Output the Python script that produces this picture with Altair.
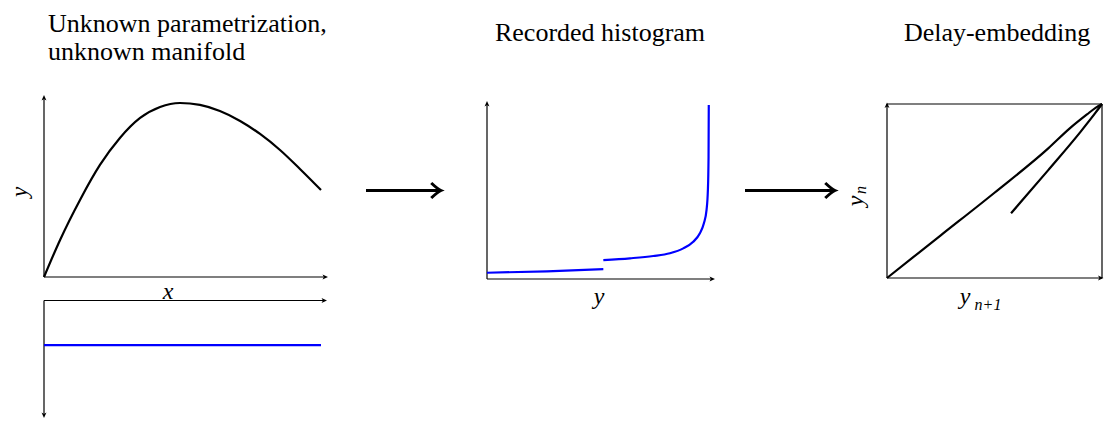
import altair as alt
import pandas as pd

# ---------------- data (panel-local, normalised units) ----------------
# Panel 1 (top): unknown manifold, y against x
p1_x = [0, 0.058, 0.13, 0.202, 0.274, 0.347, 0.419, 0.491, 0.563, 0.635, 0.708, 0.78, 0.852, 0.924, 1.0]
p1_y = [0, 0.213, 0.443, 0.644, 0.799, 0.914, 0.977, 1.0, 0.989, 0.954, 0.897, 0.822, 0.73, 0.621, 0.5]
# Panel 1 (bottom): parametrisation density (uniform), measured downwards
p1b_x = [0, 1.0]
p1b_v = [0.38, 0.38]
# Panel 2: recorded histogram, two branches
p2a_y = [0, 0.27, 0.524]
p2a_d = [0.036, 0.044, 0.057]
p2b_y = [0.524, 0.644, 0.749, 0.824, 0.884, 0.929, 0.959, 0.977, 0.989, 0.995, 0.998, 0.999]
p2b_d = [0.109, 0.119, 0.132, 0.148, 0.176, 0.214, 0.263, 0.320, 0.397, 0.511, 0.703, 1.0]
# Panel 3: delay embedding, two branches
p3a_x = [0, 0.25, 0.5, 0.75, 0.85, 0.93, 0.97, 1.0]
p3a_y = [0, 0.245, 0.49, 0.745, 0.86, 0.94, 0.978, 1.0]
p3b_x = [0.577, 0.75, 0.9, 0.97, 1.0]
p3b_y = [0.372, 0.62, 0.84, 0.95, 1.0]

titles = ["Unknown parametrization,", "unknown manifold", "Recorded histogram", "Delay-embedding"]

# ---------------- layout (page pixels) ----------------
W, H = 1096, 411
P1 = dict(x0=44, x1=321, y0=277, y1=103, ax=328, ay=95)
P1B = dict(x0=44, x1=321, y0=300.5, y1=418, ax=327)
P2 = dict(x0=487, x1=709, y0=279, y1=105, ax=715, ay=101)
P3 = dict(x0=887, x1=1102, y0=278, y1=104)


def mapxy(box, xs, ys):
    px = [box["x0"] + v * (box["x1"] - box["x0"]) for v in xs]
    py = [box["y0"] + v * (box["y1"] - box["y0"]) for v in ys]
    return px, py


rows = []
def add(seg, color, box, xs, ys):
    px, py = mapxy(box, xs, ys)
    for i, (a, b) in enumerate(zip(px, py)):
        rows.append(dict(seg=seg, color=color, i=i, x=a, y=b))

add("p1", "black", P1, p1_x, p1_y)
add("p1b", "blue", P1B, p1b_x, p1b_v)
add("p2a", "blue", P2, p2a_y, p2a_d)
add("p2b", "blue", P2, p2b_y, p2b_d)
add("p3a", "black", P3, p3a_x, p3a_y)
add("p3b", "black", P3, p3b_x, p3b_y)
curves = pd.DataFrame(rows)

X = alt.Scale(domain=[8, 8 + W])
Y = alt.Scale(domain=[8, 8 + H], reverse=True)

def xe(f="x"):
    return alt.X(f"{f}:Q", scale=X, axis=None)
def ye(f="y"):
    return alt.Y(f"{f}:Q", scale=Y, axis=None)

lines = alt.Chart(curves).mark_line(strokeWidth=2.2, strokeCap="butt", interpolate="monotone").encode(
    x=xe(), y=ye(), detail="seg:N", order="i:Q",
    color=alt.Color("color:N", scale=None),
)

# axis lines
axes = pd.DataFrame([
    dict(x=P1["x0"], y=P1["y0"], x2=P1["ax"] - 3, y2=P1["y0"]),
    dict(x=P1["x0"], y=P1["y0"], x2=P1["x0"], y2=P1["ay"] + 3),
    dict(x=P1B["x0"], y=P1B["y0"], x2=P1B["ax"] - 3, y2=P1B["y0"]),
    dict(x=P1B["x0"], y=P1B["y0"], x2=P1B["x0"], y2=P1B["y1"] - 3),
    dict(x=P2["x0"], y=P2["y0"], x2=P2["ax"] - 3, y2=P2["y0"]),
    dict(x=P2["x0"], y=P2["y0"], x2=P2["x0"], y2=P2["ay"] + 3),
    dict(x=P3["x0"], y=P3["y0"], x2=P3["x1"], y2=P3["y0"]),
    dict(x=P3["x0"], y=P3["y0"], x2=P3["x0"], y2=P3["y1"]),
    dict(x=P3["x0"], y=P3["y1"], x2=P3["x1"], y2=P3["y1"]),
    dict(x=P3["x1"], y=P3["y1"], x2=P3["x1"], y2=P3["y0"]),
])
axis_rules = alt.Chart(axes).mark_rule(strokeWidth=1.2, color="black").encode(
    x=xe(), y=ye(), x2="x2:Q", y2="y2:Q")

heads = pd.DataFrame([
    dict(x=P1["ax"], y=P1["y0"], a=0),
    dict(x=P1["x0"], y=P1["ay"], a=270),
    dict(x=P1B["ax"], y=P1B["y0"], a=0),
    dict(x=P1B["x0"], y=P1B["y1"], a=90),
    dict(x=P2["ax"], y=P2["y0"], a=0),
    dict(x=P2["x0"], y=P2["ay"], a=270),
    dict(x=P3["x1"] + 1.5, y=P3["y0"], a=0),
    dict(x=P3["x0"], y=P3["y1"] - 1.5, a=270),
])
stealth = "M0,0 L-2,-0.9 L-1.5,0 L-2,0.9 Z"
axis_heads = alt.Chart(heads).mark_point(
    shape=stealth, filled=True, color="black", size=30, opacity=1).encode(
    x=xe(), y=ye(), angle=alt.Angle("a:Q", scale=None))

# big arrows between panels
big = pd.DataFrame([
    dict(x=366, x2=439, y=190.5, tip=441),
    dict(x=745, x2=833, y=190.5, tip=835),
])
big_shaft = alt.Chart(big).mark_rule(strokeWidth=3, color="black").encode(
    x=xe(), x2="x2:Q", y=ye())
big_head = alt.Chart(big).mark_point(
    shape="M-1.3,-1 Q-0.45,-0.2 0,0 Q-0.45,0.2 -1.3,1", filled=False,
    strokeWidth=3, color="black", size=225, opacity=1).encode(
    x=xe("tip"), y=ye())

# titles
tdf = pd.DataFrame([
    dict(t=titles[0], x=48, y=32, al="left"),
    dict(t=titles[1], x=48, y=60, al="left"),
    dict(t=titles[2], x=600, y=41, al="center"),
    dict(t=titles[3], x=997, y=41, al="center"),
])
FONT = "Liberation Serif"
title_marks = []
for al in ["left", "center"]:
    title_marks.append(
        alt.Chart(tdf[tdf.al == al]).mark_text(
            font=FONT, fontSize=26, align=al, baseline="alphabetic", color="black"
        ).encode(x=xe(), y=ye(), text="t:N"))

# axis labels
lab = pd.DataFrame([
    dict(t="x", x=168, y=292, a=0, s=24),
    dict(t="y", x=599, y=297, a=0, s=24),
    dict(t="y", x=20, y=192, a=270, s=23),
    dict(t="y", x=965, y=297, a=0, s=24),
    dict(t="n+1", x=988, y=305, a=0, s=16),
    dict(t="y", x=856, y=201, a=270, s=24),
    dict(t="n", x=861, y=190, a=270, s=16),
])
label_marks = alt.Chart(lab).mark_text(
    font=FONT, fontStyle="italic", align="center", baseline="middle", color="black"
).encode(x=xe(), y=ye(), text="t:N", angle=alt.Angle("a:Q", scale=None),
         size=alt.Size("s:Q", scale=None))

chart = alt.layer(
    axis_rules, axis_heads, lines, big_shaft, big_head, *title_marks, label_marks
).properties(
    width=W, height=H, padding=0, autosize=alt.AutoSizeParams(type="none")
).configure_view(stroke=None)

chart.save("out.html", embed_options={"renderer": "svg", "actions": False})
